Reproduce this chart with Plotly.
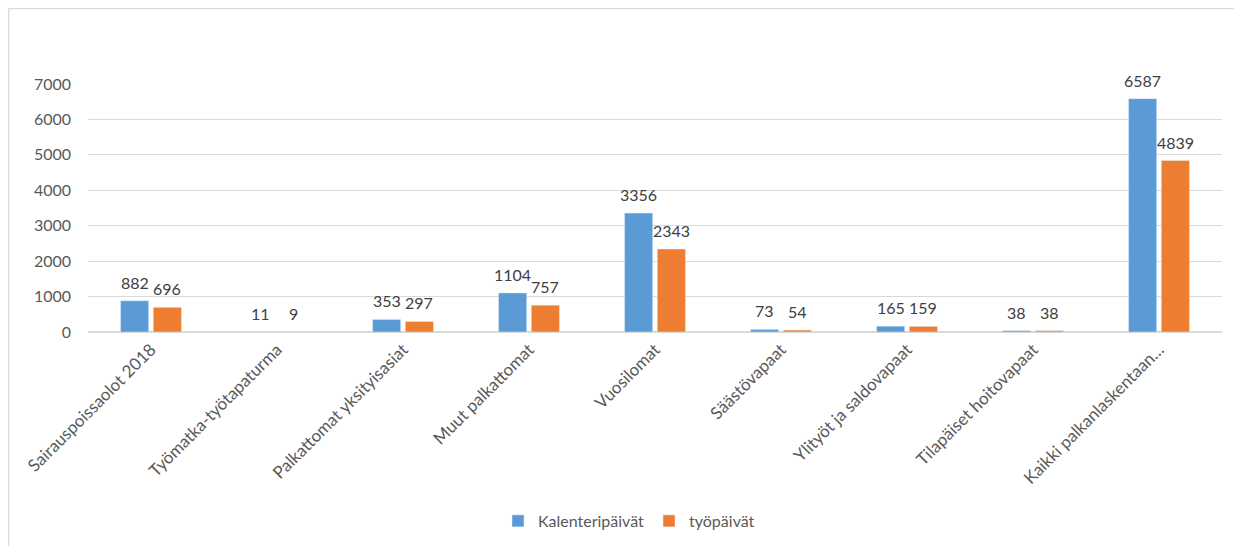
import plotly.graph_objects as go

categories = ["Sairauspoissaolot 2018", "Työmatka-työtapaturma", "Palkattomat yksityisasiat",
              "Muut palkattomat", "Vuosilomat", "Säästövapaat", "Ylityöt ja saldovapaat",
              "Tilapäiset hoitovapaat", "Kaikki palkanlaskentaan…"]
kalenteripaivat = [882, 11, 353, 1104, 3356, 73, 165, 38, 6587]
tyopaivat = [696, 9, 297, 757, 2343, 54, 159, 38, 4839]
y_ticks = [0, 1000, 2000, 3000, 4000, 5000, 6000, 7000]

W, H = 1242, 546
ml, mt = 80, 76
pw, ph = 1134, 248
mr, mb = W - ml - pw, H - mt - ph

font = "Lato, Open Sans, sans-serif"
grey = "#595959"
label_color = "#404040"

fig = go.Figure()
fig.add_trace(go.Bar(name="Kalenteripäivät", x=categories, y=kalenteripaivat,
                     marker_color="#5B9BD5"))
fig.add_trace(go.Bar(name="työpäivät", x=categories, y=tyopaivat,
                     marker_color="#ED7D31"))

# data labels above each bar (offset to each bar within its group)
group_px = pw / len(categories)
slot = group_px * (1 - 0.48) / 2
annotations = []
for series, shift in ((kalenteripaivat, -slot / 2), (tyopaivat, slot / 2)):
    for c, v in zip(categories, series):
        annotations.append(dict(x=c, y=v, xref="x", yref="y", text=str(v), showarrow=False,
                                xshift=shift, yshift=7, yanchor="bottom",
                                font=dict(size=16, color=label_color, family=font)))

def px_x(p):
    return (p - ml) / pw

def px_y(p):
    return (H - mb - p) / ph

fig.update_layout(
    width=W, height=H,
    margin=dict(l=ml, r=mr, t=mt, b=mb, autoexpand=False),
    paper_bgcolor="white", plot_bgcolor="white",
    barmode="group", bargap=0.48, bargroupgap=0.14,
    font=dict(family=font, color=grey, size=15),
    showlegend=True,
    legend=dict(orientation="h", xref="container", x=0.5, xanchor="center",
                y=px_y(513), yanchor="middle",
                font=dict(size=16, color=grey), traceorder="normal"),
    xaxis=dict(tickangle=-45, tickfont=dict(size=17, color=grey), showgrid=False,
               showline=True, linecolor="#d9d9d9", linewidth=1, ticks="", automargin=False),
    yaxis=dict(range=[0, 7000], tickvals=y_ticks, showgrid=True, gridcolor="#d9d9d9",
               zeroline=True, zerolinecolor="#d9d9d9", tickfont=dict(size=16, color=grey),
               ticklabelstandoff=16, showline=False, automargin=False),
    annotations=annotations,
    shapes=[
        dict(type="line", xref="paper", yref="paper", x0=px_x(0.5), x1=px_x(W + 5),
             y0=px_y(0.5), y1=px_y(0.5), line=dict(color="#d9d9d9", width=1.5)),
        dict(type="line", xref="paper", yref="paper", x0=px_x(0.5), x1=px_x(0.5),
             y0=px_y(0.5), y1=px_y(H + 5), line=dict(color="#d9d9d9", width=1.5)),
    ],
)

fig.write_html("out.html")
